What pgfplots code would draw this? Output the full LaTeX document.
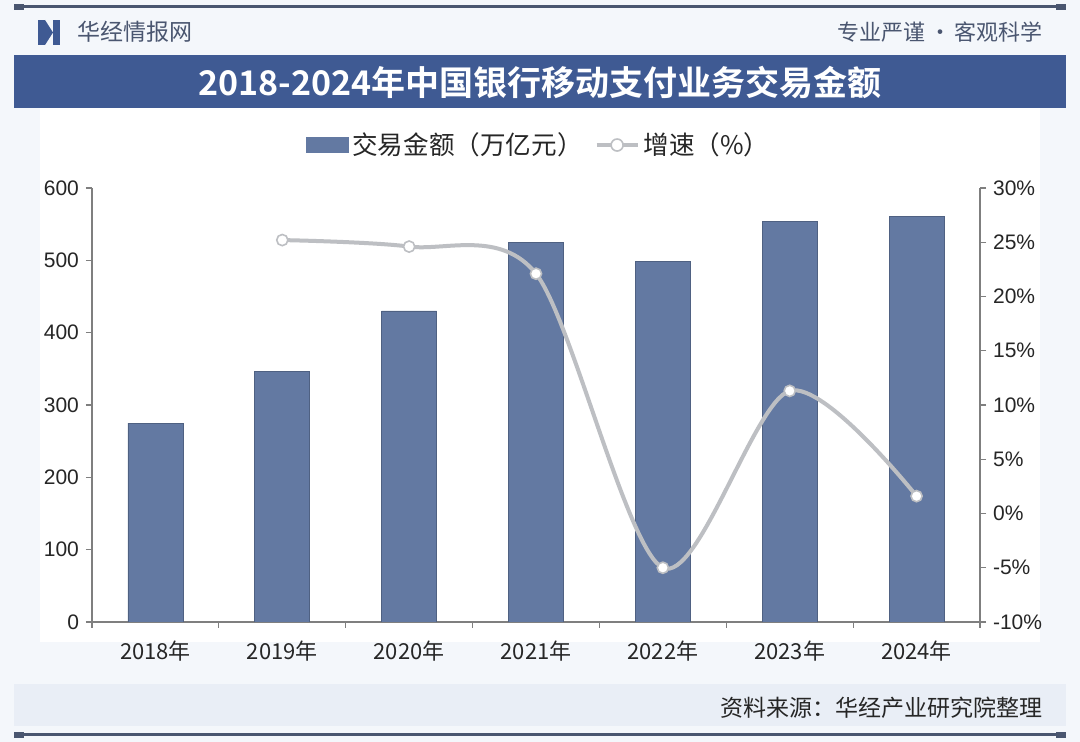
\documentclass[border=0pt]{standalone}
\usepackage{pgfplots}
\pgfplotsset{compat=1.18}
\usepackage{fontspec}
\setmainfont{Liberation Sans}
\newfontfamily\cjk{Noto Sans CJK SC}
\newfontfamily\cjkb{Noto Sans CJK SC Bold}
\definecolor{barc}{HTML}{6379A2}
\definecolor{linec}{HTML}{BDBFC3}
\definecolor{banner}{HTML}{3F5A93}
\definecolor{bgc}{HTML}{F4F7FB}
\definecolor{footc}{HTML}{E9EEF6}
\definecolor{rulec}{HTML}{4A5670}
\definecolor{axc}{HTML}{7F7F7F}
\definecolor{txtc}{HTML}{262626}
\pgfplotstableread{
x amount growth
0 275 nan
1 346 25.2
2 430 24.6
3 525 22.1
4 498 -5.0
5 554 11.3
6 561 1.6
}\datatab
\begin{document}
\begin{tikzpicture}[x=0.5pt,y=0.5pt]
% background (1080 x 742 px, 1px = 0.5pt)
\fill[bgc] (0,0) rectangle (1080,742);
\fill[white] (40,100) rectangle (1040,675);
% top and bottom rules
\draw[rulec, line width=1.5pt] (18,735) -- (1062,735);
\fill[rulec] (14,732) rectangle (24,738);
\fill[rulec] (1056,732) rectangle (1066,738);
\draw[rulec, line width=1.5pt] (18,7) -- (1062,7);
\fill[rulec] (14,4) rectangle (24,10);
\fill[rulec] (1056,4) rectangle (1066,10);
% header
\fill[banner] (38,697) rectangle (45,722);
\fill[banner] (53,697) rectangle (60,722);
\fill[banner] (45,722) -- (53,709.5) -- (45,697) -- cycle;
\node[anchor=west, text=rulec, font=\cjk\fontsize{11.5}{13}\selectfont] at (70,710) {华经情报网};
\node[anchor=east, text=rulec, font=\cjk\fontsize{11}{13}\selectfont] at (1050,710) {专业严谨\,•\,客观科学};
% title banner
\fill[banner] (14,634) rectangle (1066,687);
\node[text=white, font=\cjkb\fontsize{17}{20}\selectfont] at (540,659) {2018-2024年中国银行移动支付业务交易金额};
% footer band
\fill[footc] (14,16) rectangle (1066,58);
\node[anchor=east, text=txtc, font=\cjk\fontsize{11.5}{13}\selectfont] at (1050,34) {资料来源：华经产业研究院整理};
% main axis
\begin{axis}[
  at={(46pt,60pt)}, anchor=south west,
  scale only axis, width=444pt, height=217pt,
  xmin=-0.5, xmax=6.5, ymin=0, ymax=600,
  axis x line*=bottom, axis y line*=left,
  axis line style={axc, line width=0.6pt},
  every outer x axis line/.append style={-},
  every outer y axis line/.append style={-},
  xtick={0,...,6},
  xticklabels={2018年,2019年,2020年,2021年,2022年,2023年,2024年},
  x tick label style={font=\cjk\fontsize{11}{12}\selectfont, text=txtc, yshift=-3pt},
  major x tick style={draw=none},
  minor xtick={-0.5,0.5,...,6.5},
  minor x tick style={axc, line width=0.6pt},
  minor tick length=3pt,
  ytick={0,100,...,600},
  major tick length=3pt,
  y tick style={axc, line width=0.6pt},
  tick align=outside,
  y tick label style={font=\fontsize{10.5}{12}\selectfont, text=txtc},
  /pgf/number format/assume math mode=true,
  ybar, bar width=27.5pt,
  legend style={at={(0.504,1.099)}, anchor=center, draw=none, fill=none,
    legend columns=2, font=\cjk\fontsize{12.8}{14}\selectfont, text=txtc,
    /tikz/every even column/.append style={column sep=4pt}},
  legend image code/.code={\fill[barc] (0cm,-0.13cm) rectangle (0.74cm,0.13cm);},
]
\addplot[fill=barc, draw=barc!80!black, line width=0.3pt] table[x=x, y=amount] {\datatab};
\addlegendentry{交易金额（万亿元）}
\addlegendimage{legend image code/.code={
  \draw[linec, line width=2pt] (0cm,0cm) -- (0.72cm,0cm);
  \draw[linec, fill=white, line width=0.8pt] (0.36cm,0cm) circle (3pt);}}
\addlegendentry{增速（\%）}
\end{axis}
% secondary axis
\begin{axis}[
  at={(46pt,60pt)}, anchor=south west,
  scale only axis, width=444pt, height=217pt,
  xmin=-0.5, xmax=6.5, ymin=-10, ymax=30,
  axis x line=none, axis y line*=right,
  axis line style={axc, line width=0.6pt},
  every outer y axis line/.append style={-},
  ytick={-10,-5,...,30},
  yticklabel={\pgfmathprintnumber{\tick}\%},
  major tick length=3pt,
  y tick style={axc, line width=0.6pt},
  tick align=outside,
  y tick label style={font=\fontsize{10.5}{12}\selectfont, text=txtc},
  /pgf/number format/assume math mode=true,
  clip=false,
]
\addplot[linec, line width=2pt, smooth, tension=0.5, mark=*,
  mark options={fill=white, draw=linec, line width=0.8pt, scale=1.4},
  unbounded coords=discard]
  table[x=x, y=growth] {\datatab};
\end{axis}
\end{tikzpicture}
\end{document}
